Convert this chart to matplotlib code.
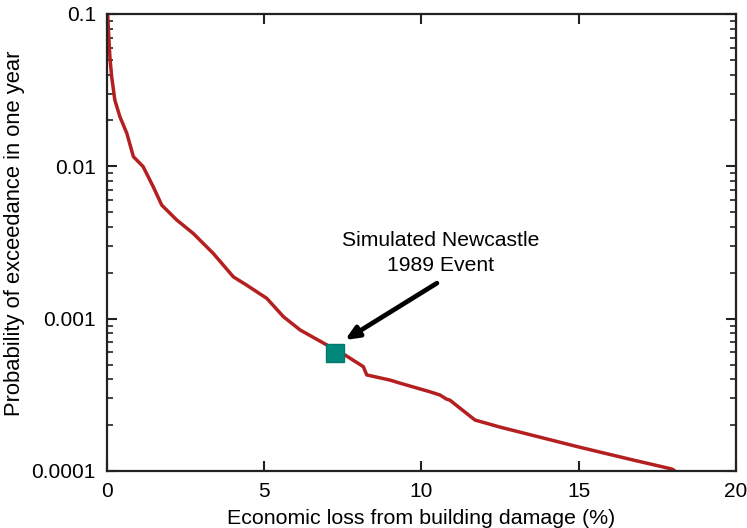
import matplotlib
matplotlib.use("Agg")
import matplotlib.pyplot as plt
from matplotlib.ticker import FixedLocator, FixedFormatter, LogLocator, NullFormatter

plt.rcParams['font.family'] = ['Liberation Sans', 'DejaVu Sans']

# Curve: economic loss (%) vs annual probability of exceedance
loss_pct = [0.02, 0.06, 0.08, 0.10, 0.15, 0.25, 0.41, 0.63, 0.84, 1.15, 1.47, 1.74,
            2.22, 2.74, 3.38, 4.02, 4.44, 5.08, 5.61, 6.14, 6.99, 7.25, 7.57, 8.15,
            8.26, 9.00, 9.32, 10.27, 10.59, 10.80, 10.90, 11.70, 12.50, 15.04,
            16.73, 17.96, 18.06]
prob_exceed = [0.1, 0.07, 0.058, 0.0499, 0.0387, 0.0272, 0.0212, 0.0165, 0.01157,
               0.00995, 0.00735, 0.00557, 0.00444, 0.00363, 0.00268, 0.00188,
               0.00166, 0.00136, 0.00103, 0.000843, 0.000672, 0.000598, 0.000577,
               0.000484, 0.000427, 0.000395, 0.000377, 0.000331, 0.000315,
               0.000296, 0.000292, 0.000216, 0.000194, 0.000143, 0.000118,
               0.000103, 0.0001]

# Highlighted event
event_loss = [7.25]
event_prob = [0.000598]
event_label = "Simulated Newcastle\n1989 Event"
label_pos = (10.62, 0.0027)
arrow_tail = (10.49, 0.00171)
arrow_head = (7.57, 0.000724)

x_ticks = [0, 5, 10, 15, 20]
x_ticklabels = ["0", "5", "10", "15", "20"]
y_ticks = [0.0001, 0.001, 0.01, 0.1]
y_ticklabels = ["0.0001", "0.001", "0.01", "0.1"]

fig = plt.figure(figsize=(7.47, 5.28), dpi=100)
ax = fig.add_axes([0.1432, 0.108, 0.8421, 0.8655])

ax.plot(loss_pct, prob_exceed, color='#b41f1f', lw=2.5, solid_capstyle='butt')
ax.plot(event_loss, event_prob, marker='s', ms=13, color='#00897b',
        markeredgecolor='#00796b', ls='none', zorder=5)

ax.set_yscale('log')
ax.set_xlim(0, 20)
ax.set_ylim(0.0001, 0.1)

ax.xaxis.set_major_locator(FixedLocator(x_ticks))
ax.xaxis.set_major_formatter(FixedFormatter(x_ticklabels))
ax.yaxis.set_major_locator(FixedLocator(y_ticks))
ax.yaxis.set_major_formatter(FixedFormatter(y_ticklabels))
ax.yaxis.set_minor_locator(LogLocator(base=10, subs=range(2, 10)))
ax.yaxis.set_minor_formatter(NullFormatter())

ax.tick_params(which='both', direction='in', top=True, right=True,
               labelsize=15, color='#222222', pad=8)
ax.tick_params(which='major', length=7, width=1.5)
ax.tick_params(which='minor', length=4, width=1.2)

for s in ax.spines.values():
    s.set_linewidth(1.6)
    s.set_color('#222222')

ax.set_xlabel("Economic loss from building damage (%)", fontsize=15.4, labelpad=6)
ax.set_ylabel("Probability of exceedance in one year", fontsize=15.8)
ax.yaxis.set_label_coords(-0.131, 0.52)

ax.text(label_pos[0], label_pos[1], event_label, ha='center', va='center',
        fontsize=15.2, linespacing=1.45)
ax.annotate("", xy=arrow_head, xytext=arrow_tail,
            arrowprops=dict(arrowstyle='-|>,head_length=0.8,head_width=0.35',
                            color='black', lw=3.4, shrinkA=0, shrinkB=0))

fig.savefig("out.png", dpi=100)
